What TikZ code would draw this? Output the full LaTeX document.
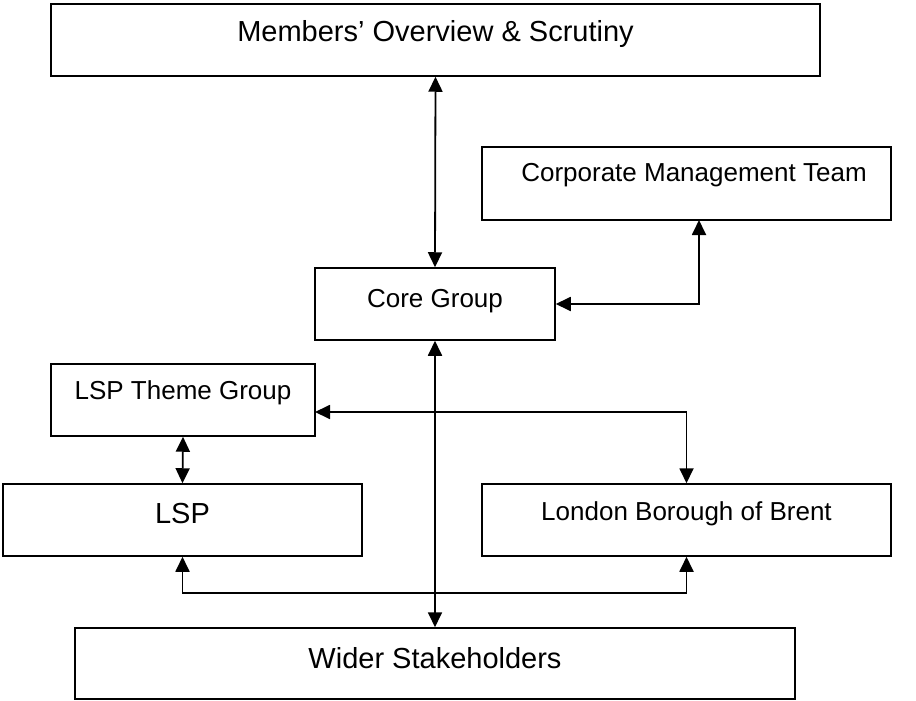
\documentclass[tikz,border=0pt]{standalone}
\usepackage{fontspec}
\setmainfont{Liberation Sans}
\usetikzlibrary{arrows.meta}
\tikzset{
  box/.style={draw, line width=1.5pt, inner sep=0pt},
  boxtext/.style={font=\fontsize{26}{30}\selectfont, inner sep=0pt},
  bigtext/.style={font=\fontsize{29}{34}\selectfont, inner sep=0pt},
  link/.style={line width=1.8pt, {Triangle[length=15pt,width=14pt]}-{Triangle[length=15pt,width=14pt]}}
}
\begin{document}
\begin{tikzpicture}[x=1pt, y=-1pt]
        \useasboundingbox (0,0) rectangle (916,701);

        % boxes
        \node[box, minimum width=769pt, minimum height=72pt] (members) at (435.5,40) {};
        \node[box, minimum width=409pt, minimum height=73pt] (cmt) at (686.5,183.5) {};
        \node[box, minimum width=240pt, minimum height=72pt] (core) at (435,304) {};
        \node[box, minimum width=264pt, minimum height=72pt] (theme) at (183,400) {};
        \node[box, minimum width=359pt, minimum height=72pt] (lsp) at (182.5,520) {};
        \node[box, minimum width=409pt, minimum height=72pt] (brent) at (686.5,520) {};
        \node[box, minimum width=720pt, minimum height=71pt] (wider) at (435,663.5) {};

        % texts near the top of each box
        \node[bigtext] (memberstext) at (435.5,34) {Members’ Overview \& Scrutiny};
        \node[boxtext] (cmttext) at (694,175) {Corporate Management Team};
        \node[boxtext] (coretext) at (435,301) {Core Group};
        \node[boxtext] (themetext) at (183,393) {LSP Theme Group};
        \node[bigtext] (lsptext) at (182.5,514) {LSP};
        \node[boxtext] (brenttext) at (686.5,514) {London Borough of Brent};
        \node[bigtext] (widertext) at (435,658) {Wider Stakeholders};

        % joins off the box centres
        \coordinate (cmtjoin) at (699,220);
        \coordinate (themejoin) at (315,412);

        % connectors
        \draw[link] (members.south) -- (core.north);
        \draw[link] (core.east) -| (cmtjoin);
        \draw[link] (core.south) -- (wider.north);
        \draw[link] (themejoin) -| (brent.north);
        \draw[link] (theme.south) -- (lsp.north);
        \draw[link] (lsp.south) -- ++(0,36) -| (brent.south);
    \end{tikzpicture}
\end{document}
